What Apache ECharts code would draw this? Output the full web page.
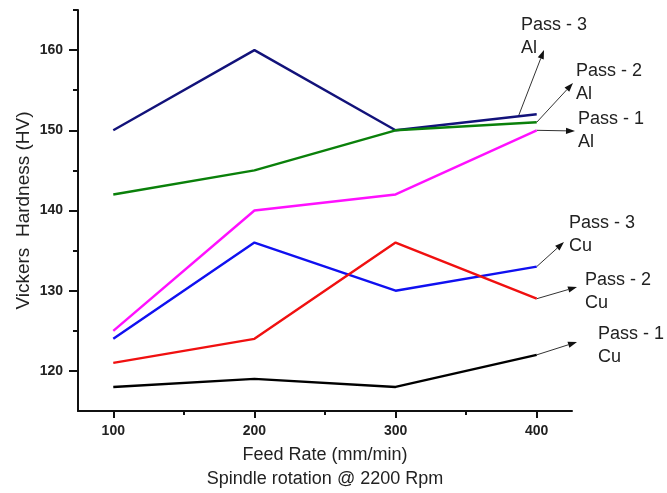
<!DOCTYPE html>
<html>
<head>
<meta charset="utf-8">
<script src="https://cdn.jsdelivr.net/npm/echarts@6/dist/echarts.min.js"></script>
<style>
  html, body { margin: 0; padding: 0; background: #fff; }
  #chart { width: 667px; height: 493px; }
</style>
</head>
<body>
<div id="chart"></div>
<script>
// Feed rate categories (mm/min)
const feedRate = [100, 200, 300, 400];

// Vickers hardness (HV) per pass and filler
const pass3Al = [150, 160, 150, 152];
const pass2Al = [142, 145, 150, 151];
const pass1Al = [125, 140, 142, 150];
const pass3Cu = [124, 136, 130, 133];
const pass2Cu = [121, 124, 136, 129];
const pass1Cu = [118, 119, 118, 122];

// Tick values
const xMajorTicks = [100, 200, 300, 400];
const xMinorTicks = [150, 250, 350];
const yMajorTicks = [120, 130, 140, 150, 160];
const yMinorTicks = [125, 135, 145, 155, 165];

const FONT = '"Liberation Sans", Arial, sans-serif';
const AXIS_COLOR = '#111';

const seriesDefs = [
  { name: 'Pass - 3 Al', values: pass3Al, color: '#12127a' },
  { name: 'Pass - 2 Al', values: pass2Al, color: '#0a800a' },
  { name: 'Pass - 1 Al', values: pass1Al, color: '#ff10ff' },
  { name: 'Pass - 3 Cu', values: pass3Cu, color: '#1010f0' },
  { name: 'Pass - 2 Cu', values: pass2Cu, color: '#f01010' },
  { name: 'Pass - 1 Cu', values: pass1Cu, color: '#000000' }
];

const chart = echarts.init(document.getElementById('chart'), null, { renderer: 'canvas' });

const majorAxisCommon = {
  axisLine: { show: true, onZero: false, lineStyle: { color: AXIS_COLOR, width: 2 } },
  splitLine: { show: false }
};

chart.setOption({
  animation: false,
  backgroundColor: '#fff',
  grid: { left: 78, right: 95, top: 10, bottom: 82, containLabel: false, outerBoundsMode: 'none' },
  xAxis: [
    Object.assign({
      type: 'value', min: 75, max: 425,
      name: 'Feed Rate (mm/min)\nSpindle rotation @ 2200 Rpm',
      nameLocation: 'middle', nameGap: 32, nameMoveOverlap: false,
      nameTextStyle: { fontFamily: FONT, fontSize: 18, color: '#222', lineHeight: 24 },
      axisTick: { show: true, customValues: xMajorTicks, length: 7, inside: false,
        lineStyle: { color: AXIS_COLOR, width: 2 } },
      axisLabel: { show: true, customValues: xMajorTicks, margin: 13,
        fontFamily: FONT, fontSize: 14, fontWeight: 'bold', color: '#222' }
    }, majorAxisCommon),
    {
      type: 'value', min: 75, max: 425, position: 'bottom',
      axisLine: { show: false },
      splitLine: { show: false },
      axisTick: { show: true, customValues: xMinorTicks, length: 4,
        lineStyle: { color: AXIS_COLOR, width: 2 } },
      axisLabel: { show: false }
    }
  ],
  yAxis: [
    Object.assign({
      type: 'value', min: 115, max: 165,
      name: 'Vickers  Hardness (HV)',
      nameLocation: 'middle', nameGap: 45, nameMoveOverlap: false,
      nameTextStyle: { fontFamily: FONT, fontSize: 19, color: '#222' },
      axisTick: { show: true, customValues: yMajorTicks, length: 9,
        lineStyle: { color: AXIS_COLOR, width: 2 } },
      axisLabel: { show: true, customValues: yMajorTicks, margin: 15,
        fontFamily: FONT, fontSize: 14, fontWeight: 'bold', color: '#222' }
    }, majorAxisCommon),
    {
      type: 'value', min: 115, max: 165, position: 'left',
      axisLine: { show: false },
      splitLine: { show: false },
      axisTick: { show: true, customValues: yMinorTicks, length: 5,
        lineStyle: { color: AXIS_COLOR, width: 2 } },
      axisLabel: { show: false }
    }
  ],
  series: seriesDefs.map(s => ({
    name: s.name,
    type: 'line',
    xAxisIndex: 0,
    yAxisIndex: 0,
    symbol: 'none',
    clip: false,
    lineStyle: { color: s.color, width: 2.4 },
    data: feedRate.map((x, i) => [x, s.values[i]])
  }))
});

// Callout labels with arrows, anchored on the lines
// anchorX: feed rate on the line where the arrow starts
const callouts = [
  { series: 0, anchorX: 387, lines: 'Pass - 3\nAl', text: [521, 25], tip: [544, 50] },
  { series: 1, anchorX: 400, lines: 'Pass - 2\nAl', text: [576, 71], tip: [573, 83] },
  { series: 2, anchorX: 400, lines: 'Pass - 1\nAl', text: [578, 119], tip: [575, 131] },
  { series: 3, anchorX: 400, lines: 'Pass - 3\nCu', text: [569, 223], tip: [564, 242] },
  { series: 4, anchorX: 400, lines: 'Pass - 2\nCu', text: [585, 280], tip: [577, 287] },
  { series: 5, anchorX: 400, lines: 'Pass - 1\nCu', text: [598, 334], tip: [577, 342] }
];

function valueOnLine(values, x) {
  for (let i = 0; i < feedRate.length - 1; i++) {
    const x0 = feedRate[i], x1 = feedRate[i + 1];
    if (x >= x0 && x <= x1) {
      const t = (x - x0) / (x1 - x0);
      return values[i] + t * (values[i + 1] - values[i]);
    }
  }
  return values[values.length - 1];
}

const graphics = [];
callouts.forEach(c => {
  const vals = seriesDefs[c.series].values;
  const start = chart.convertToPixel({ xAxisIndex: 0, yAxisIndex: 0 },
    [c.anchorX, valueOnLine(vals, c.anchorX)]);
  const tip = c.tip;
  const dx = tip[0] - start[0], dy = tip[1] - start[1];
  const len = Math.sqrt(dx * dx + dy * dy);
  const ux = dx / len, uy = dy / len;
  const headLen = 9, headHalf = 3.2;
  const bx = tip[0] - ux * headLen, by = tip[1] - uy * headLen;
  graphics.push({
    type: 'line', silent: true,
    shape: { x1: start[0], y1: start[1], x2: bx, y2: by },
    style: { stroke: '#333', lineWidth: 1 }
  });
  graphics.push({
    type: 'polygon', silent: true,
    shape: { points: [
      [tip[0], tip[1]],
      [bx - uy * headHalf, by + ux * headHalf],
      [bx + uy * headHalf, by - ux * headHalf]
    ] },
    style: { fill: '#111' }
  });
  graphics.push({
    type: 'text', silent: true,
    x: c.text[0], y: c.text[1] - 11.5,
    style: {
      text: c.lines, fill: '#222', font: '18px ' + FONT,
      lineHeight: 23, textAlign: 'left', textVerticalAlign: 'top'
    }
  });
});
chart.setOption({ graphic: graphics });
</script>
</body>
</html>
